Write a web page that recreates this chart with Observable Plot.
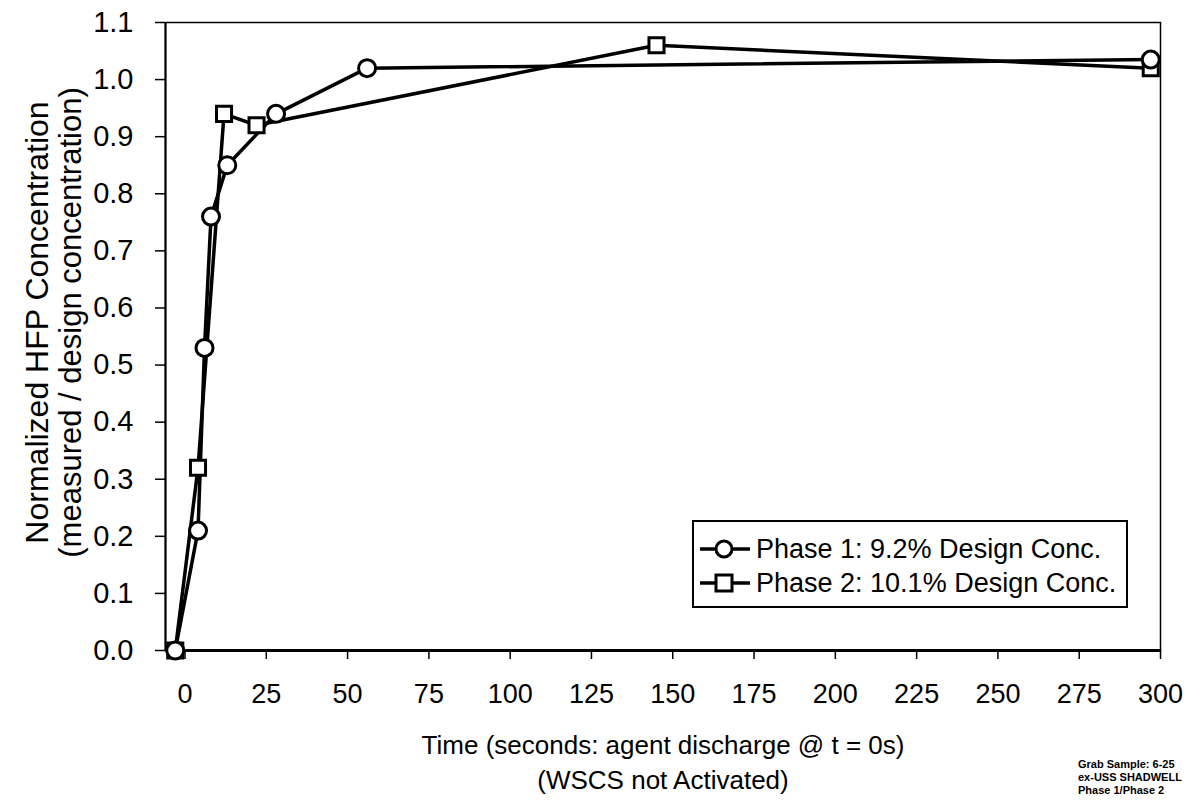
<!DOCTYPE html>
<html>
<head>
<meta charset="utf-8">
<script src="https://cdn.jsdelivr.net/npm/d3@7"></script>
<script src="https://cdn.jsdelivr.net/npm/@observablehq/plot@0.6"></script>
<style>
  html, body { margin: 0; padding: 0; background: #fff; }
  #wrap { position: relative; width: 1197px; height: 803px; overflow: hidden; font-family: "Liberation Sans", Arial, sans-serif; }
  #legend { position: absolute; left: 692px; top: 520px; width: 436px; height: 88px; border: 2px solid #000; background: #fff; box-sizing: border-box; }
  .lrow { position: absolute; left: 0; height: 34px; display: flex; align-items: center; font-size: 27px; color: #000; white-space: nowrap; }
  .lrow svg { margin-right: 4px; }
  #caption { position: absolute; left: 1078px; top: 758px; font-size: 11px; font-weight: bold; line-height: 13px; white-space: nowrap; color: #000; }
</style>
</head>
<body>
<div id="wrap"></div>
<script>
// ---- data ----
const phase1Time = [-3, 4, 6, 8, 13, 28, 56, 297];
const phase1Conc = [0, 0.21, 0.53, 0.76, 0.85, 0.94, 1.02, 1.035];
const phase2Time = [-3, 4, 12, 22, 145, 297];
const phase2Conc = [0, 0.32, 0.94, 0.92, 1.06, 1.02];
const seriesNames = ["Phase 1: 9.2% Design Conc.", "Phase 2: 10.1% Design Conc."];
const xTicks = [0, 25, 50, 75, 100, 125, 150, 175, 200, 225, 250, 275, 300];
const yTicks = [0, 0.1, 0.2, 0.3, 0.4, 0.5, 0.6, 0.7, 0.8, 0.9, 1.0, 1.1];
const xTitle = ["Time (seconds: agent discharge @ t = 0s)", "(WSCS not Activated)"];
const yTitle = ["Normalized HFP Concentration", "(measured / design concentration)"];
const captionLines = ["Grab Sample: 6-25", "ex-USS SHADWELL", "Phase 1/Phase 2"];

const p1 = phase1Time.map((t, i) => ({t, c: phase1Conc[i]}));
const p2 = phase2Time.map((t, i) => ({t, c: phase2Conc[i]}));

const font = "Liberation Sans, Arial, sans-serif";

const chart = Plot.plot({
  width: 1197,
  height: 803,
  marginLeft: 165,
  marginRight: 37,
  marginTop: 22,
  marginBottom: 153,
  style: { fontFamily: font, fontSize: "26px", color: "#000", background: "#fff", overflow: "visible" },
  x: { domain: [-6, 300] },
  y: { domain: [0, 1.1] },
  marks: [
    Plot.frame({ stroke: "#000", strokeWidth: 1.5 }),
    Plot.axisX({ ticks: xTicks, tickSize: 9, tickPadding: 24, tickFormat: d => String(d), label: null, fontSize: 27, strokeWidth: 1.5 }),
    Plot.axisY({ ticks: yTicks, tickSize: 10, tickPadding: 22, tickFormat: d => d.toFixed(1), label: null, fontSize: 29, strokeWidth: 1.5 }),
    Plot.ruleY([0], { stroke: "#000", strokeWidth: 3 }),
    Plot.ruleX([-6], { stroke: "#000", strokeWidth: 2 }),
    Plot.line(p2, { x: "t", y: "c", stroke: "#000", strokeWidth: 3.5 }),
    Plot.line(p1, { x: "t", y: "c", stroke: "#000", strokeWidth: 3.5 }),
    Plot.dot(p2, { x: "t", y: "c", symbol: "square", r: 8.5, fill: "#fff", stroke: "#000", strokeWidth: 3 }),
    Plot.dot(p1, { x: "t", y: "c", symbol: "circle", r: 8.5, fill: "#fff", stroke: "#000", strokeWidth: 3 }),
    Plot.text([xTitle[0]], { frameAnchor: "bottom", dy: 95, fontSize: 26, lineAnchor: "middle", fill: "#000" }),
    Plot.text([xTitle[1]], { frameAnchor: "bottom", dy: 130, fontSize: 26, lineAnchor: "middle", fill: "#000" }),
    Plot.text([yTitle[0]], { frameAnchor: "left", textAnchor: "middle", dx: -128, dy: -14, rotate: -90, fontSize: 32, lineAnchor: "middle", fill: "#000" }),
    Plot.text([yTitle[1]], { frameAnchor: "left", textAnchor: "middle", dx: -94, dy: -14, rotate: -90, fontSize: 31, lineAnchor: "middle", fill: "#000" })
  ]
});

const wrap = document.getElementById("wrap");
wrap.appendChild(chart);

// legend
const legend = document.createElement("div");
legend.id = "legend";
const symbols = ["circle", "square"];
seriesNames.forEach((name, i) => {
  const row = document.createElement("div");
  row.className = "lrow";
  row.style.top = (10 + i * 34) + "px";
  const sym = symbols[i] === "circle"
    ? '<circle cx="30" cy="17" r="8" fill="#fff" stroke="#000" stroke-width="3"/>'
    : '<rect x="22" y="9" width="16" height="16" fill="#fff" stroke="#000" stroke-width="3"/>';
  row.innerHTML = `<svg width="58" height="34"><line x1="6" y1="17" x2="56" y2="17" stroke="#000" stroke-width="3.5"/>${sym}</svg><span>${name}</span>`;
  legend.appendChild(row);
});
wrap.appendChild(legend);

// caption
const cap = document.createElement("div");
cap.id = "caption";
cap.innerHTML = captionLines.join("<br>");
wrap.appendChild(cap);
</script>
</body>
</html>
